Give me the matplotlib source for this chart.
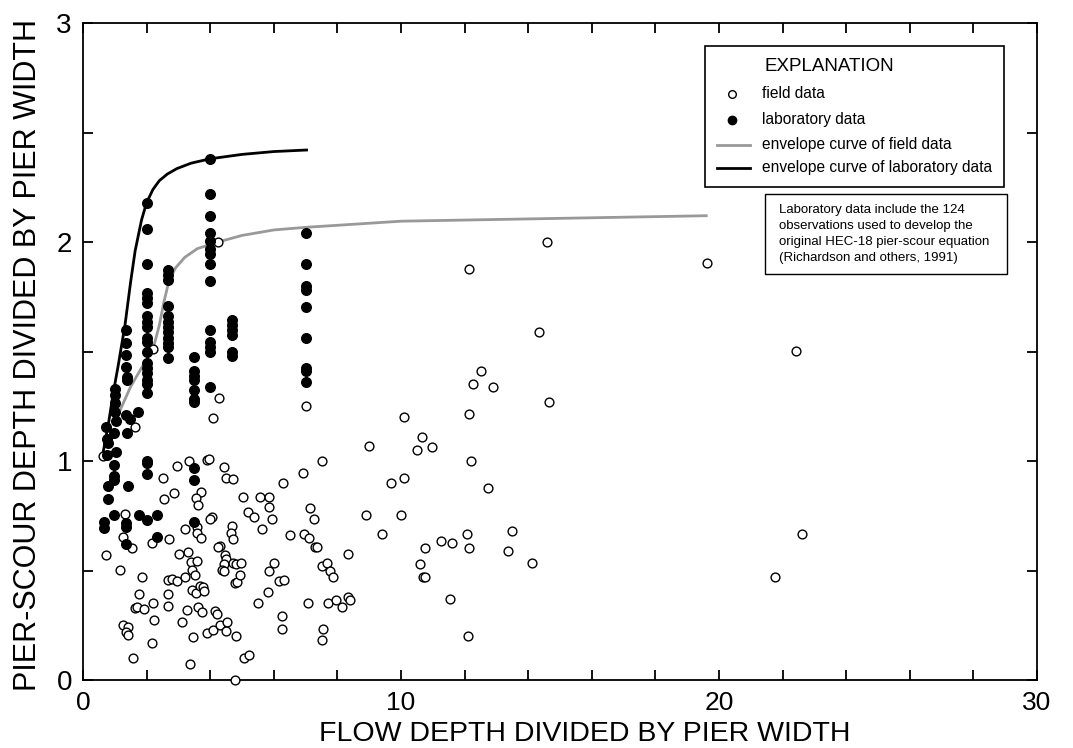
import matplotlib
matplotlib.use("Agg")
import matplotlib.pyplot as plt
from matplotlib.patches import Rectangle
from matplotlib.lines import Line2D

# laboratory data (filled circles), flow depth / pier width vs scour depth / pier width
lab_x = [0.72, 0.76, 0.80, 0.74, 0.79, 0.79, 0.66, 0.66,
         1.0, 1.0, 1.0, 1.02, 1.05, 0.98, 1.05, 0.98, 0.98, 0.98, 0.98,
         1.35, 1.35, 1.35, 1.35, 1.38, 1.37, 1.35, 1.48, 1.37, 1.43, 1.35, 1.35, 1.35, 1.74,
         2.0, 2.0, 2.0, 2.0, 2.0, 2.0, 2.0, 2.0, 2.0, 2.0, 2.0, 2.0, 2.0, 2.0, 2.0, 2.0, 2.0,
         2.0, 2.0, 2.0, 2.0, 2.0, 1.77, 2.34, 2.34,
         2.67, 2.67, 2.67, 2.67, 2.67, 2.67, 2.67, 2.67, 2.67, 2.67, 2.67, 2.67,
         3.5, 3.5, 3.5, 3.5, 3.5, 3.5, 3.5, 3.5, 3.5, 3.5,
         4.0, 4.0, 4.0, 4.0, 4.0, 4.0, 4.0, 4.0, 4.0, 4.0, 4.0, 4.0, 4.0, 4.0,
         4.67, 4.67, 4.67, 4.67, 4.67, 4.67,
         7.0, 7.0, 7.0, 7.0, 7.0, 7.0, 7.0, 7.0, 7.0]
lab_y = [1.157, 1.10, 1.08, 1.027, 0.886, 0.826, 0.723, 0.693,
         1.33, 1.30, 1.265, 1.225, 1.184, 1.13, 1.04, 0.98, 0.93, 0.913, 0.753,
         1.60, 1.54, 1.484, 1.427, 1.385, 1.37, 1.21, 1.19, 1.127, 0.886, 0.718, 0.70, 0.62, 1.225,
         2.18, 2.06, 1.90, 1.765, 1.743, 1.72, 1.66, 1.636, 1.61, 1.56, 1.545, 1.50, 1.447,
         1.425, 1.40, 1.37, 1.35, 1.31, 1.0, 0.99, 0.94, 0.73, 0.753, 0.753, 0.654,
         1.872, 1.85, 1.826, 1.71, 1.66, 1.636, 1.61, 1.59, 1.56, 1.54, 1.52, 1.47,
         1.473, 1.41, 1.39, 1.37, 1.324, 1.283, 1.27, 0.97, 0.913, 0.723,
         2.38, 2.22, 2.12, 2.04, 2.005, 1.97, 1.945, 1.90, 1.82, 1.60, 1.545, 1.52, 1.50, 1.34,
         1.644, 1.62, 1.60, 1.575, 1.50, 1.48,
         2.04, 1.90, 1.80, 1.78, 1.705, 1.56, 1.425, 1.41, 1.36]

# field data (open circles)
field_x = [0.64, 0.72, 1.16, 1.32, 1.27, 1.55, 1.64, 2.21, 4.25, 4.29, 4.10, 7.01,
           2.95, 3.33, 3.89, 3.96, 4.44, 4.50, 4.73, 2.51, 2.86, 2.55, 3.70, 3.55, 3.63,
           2.16, 2.70, 3.21, 3.57, 3.57, 3.71, 4.05, 4.00, 4.67, 4.65, 4.73, 4.31, 4.25,
           4.47, 4.49, 4.44, 4.36, 4.44, 4.73, 4.78, 1.85, 2.66, 2.81, 2.95, 3.21, 3.31,
           3.02, 3.40, 3.57, 3.44, 3.52, 3.42, 3.54, 3.68, 3.78, 3.81, 1.76, 2.66, 2.21,
           1.64, 1.71, 1.93, 2.68, 3.26, 3.63, 3.75, 4.15, 4.22, 2.24, 3.10, 1.27, 1.43,
           1.34, 1.43, 2.16, 3.45, 3.90, 4.08, 4.31, 4.52, 4.50, 1.58, 3.36, 4.77,
           6.30, 6.93, 7.51, 5.04, 5.57, 5.85, 5.85, 5.20, 5.39, 5.93, 5.64, 6.51, 6.95,
           7.12, 7.14, 7.26, 7.30, 7.37, 8.34, 7.51, 7.68, 7.77, 7.87, 7.09, 7.71, 7.96,
           8.14, 8.34, 8.40, 7.56, 7.51, 6.25, 6.25, 5.51, 5.81, 6.15, 6.33, 5.85, 6.01,
           4.85, 4.94, 4.81, 4.96, 4.80, 5.06, 5.23,
           14.34, 12.50, 12.25, 12.88, 14.66, 10.10, 12.14, 10.67, 10.50, 10.99, 9.00,
           12.19, 9.70, 10.10, 12.74, 8.91, 10.00, 9.40, 12.08, 12.13, 13.50, 13.36,
           14.11, 11.27, 11.61, 10.74, 10.60, 10.68, 10.74, 11.53, 12.10,
           19.61, 22.43, 22.62, 21.77, 14.60, 12.14]
field_y = [1.023, 0.571, 0.502, 0.758, 0.654, 0.604, 1.154, 1.511, 2.0, 1.289, 1.195, 1.251,
           0.979, 1.0, 1.005, 1.01, 0.971, 0.921, 0.918, 0.924, 0.852, 0.825, 0.857, 0.829, 0.799,
           0.624, 0.642, 0.688, 0.70, 0.67, 0.647, 0.746, 0.735, 0.703, 0.67, 0.642, 0.613, 0.609,
           0.571, 0.551, 0.53, 0.502, 0.499, 0.533, 0.444, 0.472, 0.457, 0.461, 0.453, 0.472, 0.586,
           0.575, 0.540, 0.543, 0.502, 0.479, 0.411, 0.399, 0.429, 0.423, 0.408, 0.393, 0.392, 0.353,
           0.327, 0.332, 0.323, 0.338, 0.32, 0.335, 0.312, 0.315, 0.30, 0.274, 0.266, 0.251, 0.243,
           0.22, 0.204, 0.17, 0.198, 0.213, 0.228, 0.251, 0.266, 0.224, 0.102, 0.072, 0.0,
           0.901, 0.947, 1.0, 0.837, 0.834, 0.834, 0.792, 0.768, 0.746, 0.735, 0.689, 0.662, 0.667,
           0.647, 0.787, 0.735, 0.609, 0.609, 0.575, 0.522, 0.533, 0.499, 0.469, 0.353, 0.353, 0.365,
           0.335, 0.378, 0.365, 0.232, 0.183, 0.292, 0.234, 0.353, 0.40, 0.453, 0.457, 0.499, 0.533,
           0.446, 0.481, 0.53, 0.534, 0.20, 0.102, 0.114,
           1.59, 1.412, 1.352, 1.339, 1.268, 1.202, 1.213, 1.111, 1.05, 1.063, 1.068,
           1.001, 0.901, 0.924, 0.875, 0.752, 0.752, 0.668, 0.667, 0.601, 0.682, 0.589,
           0.534, 0.635, 0.627, 0.601, 0.531, 0.469, 0.469, 0.368, 0.20,
           1.903, 1.502, 0.665, 0.469, 2.0, 1.877]

# envelope curves
env_field_x = [1.1, 1.5, 1.9, 2.2, 2.4, 2.55, 2.7, 2.9, 3.2, 3.6, 4.25, 5.0, 6.0, 7.0, 8.4, 10.0, 15.0, 19.6]
env_field_y = [1.21, 1.34, 1.44, 1.51, 1.62, 1.73, 1.82, 1.88, 1.93, 1.97, 2.0, 2.03, 2.055, 2.067, 2.08, 2.095, 2.108, 2.12]
env_lab_x = [0.62, 0.8, 0.95, 1.1, 1.32, 1.5, 1.64, 1.84, 2.0, 2.2, 2.4, 2.65, 2.95, 3.4, 4.0, 5.0, 6.0, 7.03]
env_lab_y = [1.03, 1.17, 1.31, 1.43, 1.62, 1.82, 1.96, 2.10, 2.18, 2.24, 2.28, 2.31, 2.335, 2.36, 2.38, 2.40, 2.413, 2.42]

W, H = 1073, 748
fig = plt.figure(figsize=(W / 100, H / 100), dpi=100)
ax = fig.add_axes([83 / W, 1 - 680 / H, (1037 - 83) / W, (680 - 23) / H])

ax.plot(env_field_x, env_field_y, color='#999999', lw=2.0, zorder=2)
ax.plot(env_lab_x, env_lab_y, color='black', lw=2.0, zorder=2)
ax.scatter(field_x, field_y, s=40, facecolors='white', edgecolors='black', linewidths=1.0, zorder=3, clip_on=False)
ax.scatter(lab_x, lab_y, s=48, color='black', zorder=4, clip_on=False)

ax.set_xlim(0, 30)
ax.set_ylim(0, 3)
ax.set_xticks([0, 10, 20, 30])
ax.set_xticks(range(0, 31, 2), minor=True)
ax.set_yticks([0, 1, 2, 3])
ax.set_yticks([0.5, 1.5, 2.5], minor=True)
ax.tick_params(which='both', direction='in', top=True, right=True, length=7, width=1.3)
ax.tick_params(axis='x', labelsize=19, pad=8)
ax.tick_params(axis='y', labelsize=20, pad=8)
for lab in ax.get_xticklabels() + ax.get_yticklabels():
    lab.set_family(['Liberation Sans', 'DejaVu Sans'])
for s in ax.spines.values():
    s.set_linewidth(1.3)

sans = ['Liberation Sans', 'DejaVu Sans']
fig.text(28 / W, 1 - 355 / H, 'PIER-SCOUR DEPTH DIVIDED BY PIER WIDTH', rotation=90,
         ha='center', va='center', fontsize=22, family=sans)
fig.text(585 / W, 1 - 747 / H, 'FLOW DEPTH DIVIDED BY PIER WIDTH',
         ha='center', va='bottom', fontsize=20.5, family=sans)

# explanation box drawn on an overlay in pixel units
ov = fig.add_axes([0, 0, 1, 1], facecolor='none')
ov.set_xlim(0, W)
ov.set_ylim(H, 0)
ov.axis('off')
ov.add_patch(Rectangle((705, 46), 299, 141, facecolor='white', edgecolor='black', lw=1.2))
ov.text(765, 66, 'EXPLANATION', fontsize=13.5, va='center', ha='left', family=sans)
ov.plot([732], [94], 'o', ms=5.5, mfc='white', mec='black', mew=1.0)
ov.text(762, 93, 'field data', fontsize=11.2, va='center', family=sans)
ov.plot([732], [120], 'o', ms=6, color='black')
ov.text(762, 119, 'laboratory data', fontsize=11.2, va='center', family=sans)
ov.add_line(Line2D([717, 750], [145, 145], color='#999999', lw=2.0))
ov.text(762, 144, 'envelope curve of field data', fontsize=11.2, va='center', family=sans)
ov.add_line(Line2D([717, 750], [168, 168], color='black', lw=2.0))
ov.text(762, 167, 'envelope curve of laboratory data', fontsize=11.2, va='center', family=sans)

ov.add_patch(Rectangle((765, 194), 242, 80, facecolor='white', edgecolor='black', lw=1.0))
note = ['Laboratory data include the 124',
        'observations used to develop the',
        'original HEC-18 pier-scour equation',
        '(Richardson and others, 1991)']
for i, t in enumerate(note):
    ov.text(779, 210 + 16 * i, t, fontsize=9.5, va='center', family=sans)

fig.savefig('out.png', dpi=100)
